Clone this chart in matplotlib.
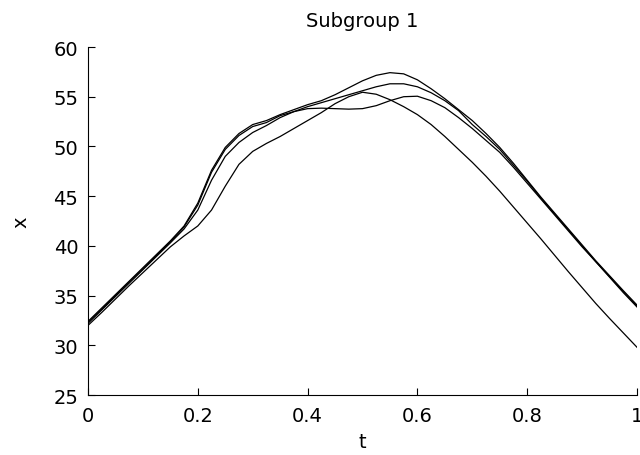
import matplotlib
matplotlib.use("Agg")
import matplotlib.pyplot as plt

t = [0, .025, .05, .075, .1, .125, .15, .175, .2, .225, .25, .275, .3, .325, .35, .375,
     .4, .425, .45, .475, .5, .525, .55, .575, .6, .625, .65, .675, .7, .725, .75, .775,
     .8, .825, .85, .875, .9, .925, .95, .975, 1.0]

curve_a = [32.4, 33.75, 35.1, 36.45, 37.8, 39.15, 40.5, 42.0, 44.3, 47.6, 49.9, 51.3, 52.2,
           52.6, 53.2, 53.7, 54.2, 54.6, 55.2, 55.9, 56.6, 57.15, 57.42, 57.3, 56.7, 55.8,
           54.8, 53.7, 52.6, 51.3, 49.9, 48.3, 46.6, 44.9, 43.3, 41.7, 40.1, 38.5, 37.0,
           35.5, 34.05]
curve_b = [32.2, 33.55, 34.9, 36.25, 37.6, 38.95, 40.3, 41.7, 43.6, 46.6, 49.0, 50.4, 51.4,
           52.1, 52.9, 53.5, 54.0, 54.4, 54.8, 55.2, 55.6, 56.0, 56.3, 56.3, 56.0, 55.4,
           54.6, 53.6, 52.2, 51.0, 49.7, 48.1, 46.5, 44.8, 43.2, 41.6, 40.0, 38.4, 36.9,
           35.4, 33.95]
curve_c = [32.3, 33.65, 35.0, 36.35, 37.7, 39.05, 40.4, 41.9, 44.1, 47.4, 49.7, 51.1, 52.0,
           52.4, 53.1, 53.5, 53.8, 53.85, 53.8, 53.75, 53.8, 54.1, 54.6, 55.0, 55.05, 54.6,
           53.9, 52.9, 51.8, 50.6, 49.4, 47.9, 46.3, 44.7, 43.1, 41.5, 39.9, 38.4, 36.85,
           35.3, 33.85]
curve_d = [32.0, 33.3, 34.65, 36.0, 37.3, 38.6, 39.9, 41.0, 42.0, 43.6, 46.0, 48.2, 49.5,
           50.3, 51.0, 51.8, 52.6, 53.4, 54.3, 55.0, 55.45, 55.25, 54.7, 54.0, 53.2, 52.2,
           51.0, 49.7, 48.4, 47.0, 45.5, 43.9, 42.3, 40.7, 39.05, 37.4, 35.8, 34.2, 32.7,
           31.25, 29.8]

x_ticks = [0, 0.2, 0.4, 0.6, 0.8, 1]
x_ticklabels = ["0", "0.2", "0.4", "0.6", "0.8", "1"]
y_ticks = [25, 30, 35, 40, 45, 50, 55, 60]
y_ticklabels = ["25", "30", "35", "40", "45", "50", "55", "60"]

plt.rcParams['font.family'] = ['DejaVu Sans']

fig = plt.figure(figsize=(6.4, 4.56), dpi=100)
ax = fig.add_axes([88/640, 60/456, 549/640, 348/456])

for c in (curve_a, curve_b, curve_c, curve_d):
    ax.plot(t, c, color='black', linewidth=0.9)

ax.set_xlim(0, 1)
ax.set_ylim(25, 60)
ax.set_xticks(x_ticks)
ax.set_xticklabels(x_ticklabels)
ax.set_yticks(y_ticks)
ax.set_yticklabels(y_ticklabels)
ax.tick_params(direction='in', length=5, width=0.8, labelsize=14)
ax.tick_params(axis='x', pad=8)
ax.tick_params(axis='y', pad=7)
for s in ('top', 'right'):
    ax.spines[s].set_visible(False)
for s in ('left', 'bottom'):
    ax.spines[s].set_linewidth(0.8)

ax.set_title("Subgroup 1", fontsize=14, pad=15)
ax.set_xlabel("t", fontsize=14)
ax.set_ylabel("x", fontsize=14)
ax.xaxis.set_label_coords(0.5, -(433 - 396) / 348)
ax.yaxis.set_label_coords(-(88 - 30) / 549, 0.5)

fig.savefig("out.png", dpi=100)
